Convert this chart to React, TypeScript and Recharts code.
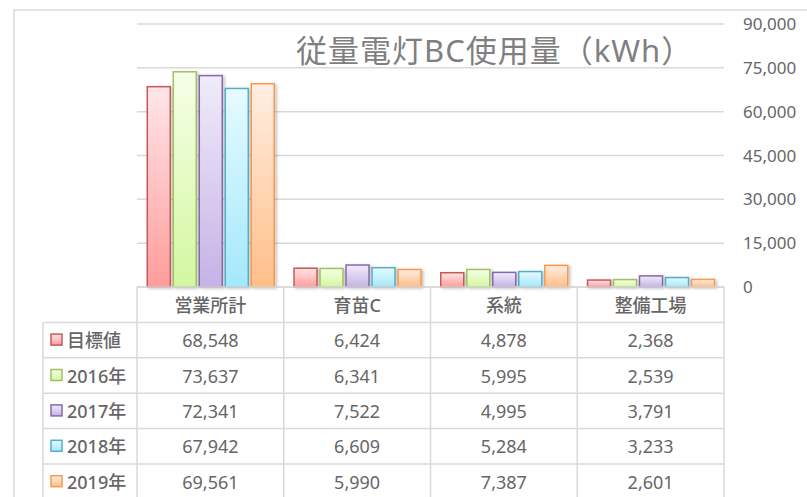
import React from "react";
import { BarChart, Bar, XAxis, YAxis, CartesianGrid } from "recharts";

const categories = ["営業所計", "育苗C", "系統", "整備工場"];
const seriesNames = ["目標値", "2016年", "2017年", "2018年", "2019年"];
const target = [68548, 6424, 4878, 2368];
const y2016 = [73637, 6341, 5995, 2539];
const y2017 = [72341, 7522, 4995, 3791];
const y2018 = [67942, 6609, 5284, 3233];
const y2019 = [69561, 5990, 7387, 2601];
const yTicks = [0, 15000, 30000, 45000, 60000, 75000, 90000];

const seriesValues = [target, y2016, y2017, y2018, y2019];
const seriesKeys = ["s0", "s1", "s2", "s3", "s4"];

const palette = [
  { stroke: "#C65A57", top: "#FFE6E8", bottom: "#FF9C9C" },
  { stroke: "#A0C162", top: "#F6FFE8", bottom: "#D3F7A0" },
  { stroke: "#8669A8", top: "#F0ECFA", bottom: "#C6B2E6" },
  { stroke: "#52AFC8", top: "#E6FAFF", bottom: "#A4E8FB" },
  { stroke: "#F79A4E", top: "#FFEEE2", bottom: "#FFBE88" },
];

const data = categories.map((name, i) => {
  const row: Record<string, string | number> = { name };
  seriesKeys.forEach((k, s) => (row[k] = seriesValues[s][i]));
  return row;
});

const W = 807;
const H = 497;
const PLOT_LEFT = 137;
const PLOT_RIGHT = 724;
const PLOT_TOP = 24;
const PLOT_BOTTOM = 287;
const YAXIS_W = 60;
const XAXIS_H = 30;
const BAND = (PLOT_RIGHT - PLOT_LEFT) / categories.length;
const ROW_H = 35.4;
const LEGEND_LEFT = 43;
const GRID = "#d9d9d9";
const TEXT = "#666666";
const FONT = "'Noto Sans', 'Noto Sans CJK JP', sans-serif";

const fmt = (v: number) => v.toLocaleString("en-US");

function TableTick(props: any) {
  const { x, y, payload, index } = props;
  const left = x - BAND / 2;
  const right = x + BAND / 2;
  const bottom = H + 20;
  const rows = seriesNames.length;
  return (
    <g fontFamily={FONT}>
      <text x={x} y={y + ROW_H / 2} textAnchor="middle" dominantBaseline="central" fontSize={18} fill={TEXT} fontWeight={500}>
        {payload.value}
      </text>
      {seriesValues.map((vals, r) => (
        <text key={r} x={x} y={y + ROW_H * (r + 1.5)} textAnchor="middle" dominantBaseline="central" fontSize={18} fill={TEXT}>
          {fmt(vals[index])}
        </text>
      ))}
      {Array.from({ length: rows }, (_, r) => (
        <line key={"h" + r} x1={left} x2={right} y1={y + ROW_H * (r + 1)} y2={y + ROW_H * (r + 1)} stroke={GRID} strokeWidth={1.5} />
      ))}
      <line x1={right} x2={right} y1={y} y2={bottom} stroke={GRID} strokeWidth={1.5} />
      {index === 0 && (
        <g>
          <line x1={left} x2={left} y1={y} y2={bottom} stroke={GRID} strokeWidth={1.5} />
          <line x1={LEGEND_LEFT} x2={LEGEND_LEFT} y1={y + ROW_H} y2={bottom} stroke={GRID} strokeWidth={1.5} />
          {seriesNames.map((n, r) => (
            <g key={n}>
              <line x1={LEGEND_LEFT} x2={left} y1={y + ROW_H * (r + 1)} y2={y + ROW_H * (r + 1)} stroke={GRID} strokeWidth={1.5} />
              <rect x={51} y={y + ROW_H * (r + 1.5) - 6} width={11} height={11} fill={`url(#grad${r})`} stroke={palette[r].stroke} strokeWidth={1.5} />
              <text x={67} y={y + ROW_H * (r + 1.5)} dominantBaseline="central" fontSize={18} fill={TEXT} fontWeight={500}>
                {n}
              </text>
            </g>
          ))}
        </g>
      )}
    </g>
  );
}

function shapeFor(s: number) {
  return (p: any) => (
    <rect
      x={p.x}
      y={p.y}
      width={p.width}
      height={p.height}
      fill={`url(#grad${s})`}
      stroke={palette[s].stroke}
      strokeWidth={1.5}
      filter="url(#barShadow)"
    />
  );
}

export default function App() {
  return (
    <div style={{ position: "absolute", left: 0, top: 0, width: W, height: H, background: "#fff", overflow: "hidden" }}>
      <svg width={W} height={H} style={{ position: "absolute", left: 0, top: 0 }}>
        <rect x={14} y={10} width={1000} height={1000} fill="none" stroke={GRID} strokeWidth={1.5} />
      </svg>
      <div style={{ position: "absolute", left: 0, top: 0 }}>
        <BarChart
          width={W}
          height={H}
          data={data}
          margin={{ top: PLOT_TOP, left: PLOT_LEFT, right: W - PLOT_RIGHT - YAXIS_W, bottom: H - PLOT_BOTTOM - XAXIS_H }}
          barCategoryGap="7%"
          barGap={3}
        >
          <defs>
            {palette.map((c, i) => (
              <linearGradient key={i} id={`grad${i}`} x1="0" y1="0" x2="0" y2="1">
                <stop offset="0%" stopColor={c.top} />
                <stop offset="100%" stopColor={c.bottom} />
              </linearGradient>
            ))}
            <filter id="barShadow" x="-20%" y="-20%" width="150%" height="150%">
              <feDropShadow dx="2" dy="1" stdDeviation="1.5" floodColor="#000" floodOpacity="0.22" />
            </filter>
          </defs>
          <CartesianGrid vertical={false} stroke={GRID} strokeWidth={1.5} />
          <XAxis
            dataKey="name"
            interval={0}
            height={XAXIS_H}
            tickSize={0}
            tickMargin={0}
            tickLine={false}
            axisLine={{ stroke: GRID, strokeWidth: 1.5 }}
            tick={<TableTick />}
          />
          <YAxis
            orientation="right"
            width={YAXIS_W}
            domain={[0, 90000]}
            ticks={yTicks}
            interval={0}
            axisLine={false}
            tickLine={false}
            tickMargin={13}
            tickFormatter={fmt}
            tick={{ fill: TEXT, fontSize: 17, fontFamily: FONT }}
          />
          {seriesKeys.map((k, s) => (
            <Bar key={k} dataKey={k} name={seriesNames[s]} isAnimationActive={false} shape={shapeFor(s)} />
          ))}
          <text x={296} y={50} dominantBaseline="central" fontSize={31} letterSpacing={1} fill="#7f7f7f" fontFamily={FONT}>
            従量電灯BC使用量（kWh）
          </text>
        </BarChart>
      </div>
    </div>
  );
}
